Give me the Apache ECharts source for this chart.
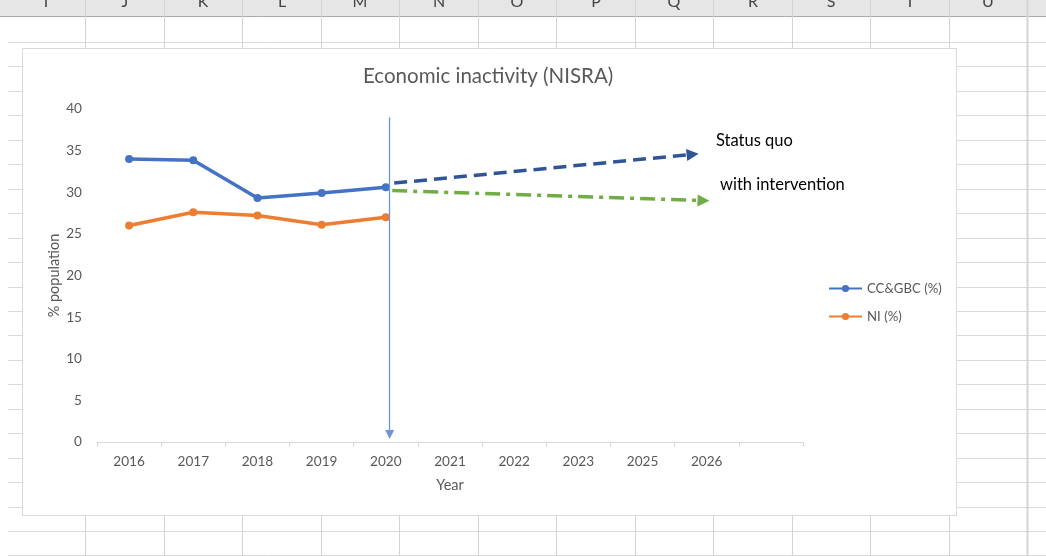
<!DOCTYPE html>
<html>
<head>
<meta charset="utf-8">
<title>Economic inactivity (NISRA)</title>
<script src="https://cdn.jsdelivr.net/npm/echarts@6/dist/echarts.min.js"></script>
<style>
  html, body { margin: 0; padding: 0; background: #fff; }
  #chart { width: 1046px; height: 556px; }
</style>
</head>
<body>
<div id="chart"></div>
<script>
// categories on the x axis (last slot is empty, as in the sheet)
var years = ['2016', '2017', '2018', '2019', '2020', '2021', '2022', '2023', '2025', '2026', ''];
// measured series
var ccgbc = [34.0, 33.85, 29.3, 29.9, 30.6];
var ni = [26.0, 27.6, 27.2, 26.1, 27.0];
// hand drawn arrows, in [category position, %] units
var statusQuo = [[4.63, 31.1], [9.28, 34.55]];
var withIntervention = [[4.6, 30.2], [9.45, 29.0]];
var divider = [[4.56, 39.0], [4.56, 0.9]];
// spreadsheet column headers
var colLetters = ['I', 'J', 'K', 'L', 'M', 'N', 'O', 'P', 'Q', 'R', 'S', 'T', 'U'];

var FONT = 'Lato, "Open Sans", sans-serif';
var GREY = '#595959';

// spreadsheet background
var sheet = [];
sheet.push({ type: 'rect', z: -20, shape: { x: 0, y: 0, width: 1046, height: 16 }, style: { fill: '#e6e6e6' } });
sheet.push({ type: 'line', z: -19, shape: { x1: 0, y1: 16.5, x2: 1046, y2: 16.5 }, style: { stroke: '#ababab', lineWidth: 1 } });
for (var r = 0; r < 22; r++) {
  var ry = Math.round(42 + r * 24.45) + 0.5;
  sheet.push({ type: 'line', z: -19, shape: { x1: 8, y1: ry, x2: 1046, y2: ry }, style: { stroke: '#dadada', lineWidth: 1 } });
}
for (var c = 0; c < colLetters.length; c++) {
  var cx = Math.round(85 + c * 78.5) + 0.5;
  sheet.push({ type: 'line', z: -19, shape: { x1: cx, y1: 0, x2: cx, y2: 556 }, style: { stroke: '#d4d4d4', lineWidth: c === 12 ? 2 : 1 } });
  sheet.push({
    type: 'text', z: -18, x: cx - 39.5, y: 10,
    style: { text: colLetters[c], fill: '#444', font: '16px ' + FONT, textAlign: 'center', textVerticalAlign: 'bottom' }
  });
}
// chart area
sheet.push({ type: 'rect', z: -10, shape: { x: 22.5, y: 48.5, width: 934, height: 467 }, style: { fill: '#fff', stroke: '#d9d9d9', lineWidth: 1 } });
// annotation text boxes
sheet.push({ type: 'text', z: 10, x: 716, y: 141, style: { text: 'Status quo', fill: '#000', font: '16.5px ' + FONT, textVerticalAlign: 'middle' } });
sheet.push({ type: 'text', z: 10, x: 720, y: 185, style: { text: 'with intervention', fill: '#000', font: '16.5px ' + FONT, textVerticalAlign: 'middle' } });

function arrow(name, pts, color, width, dash, size) {
  return {
    name: name,
    type: 'lines',
    coordinateSystem: 'cartesian2d',
    xAxisIndex: 1,
    yAxisIndex: 0,
    silent: true,
    z: 4,
    symbol: ['none', 'triangle'],
    symbolSize: size,
    lineStyle: { color: color, width: width, type: dash, opacity: 1 },
    data: [{ coords: pts }]
  };
}

var chart = echarts.init(document.getElementById('chart'));
chart.setOption({
  animation: false,
  textStyle: { fontFamily: FONT },
  graphic: sheet,
  title: {
    text: 'Economic inactivity (NISRA)',
    left: 358,
    top: 61,
    textStyle: { fontFamily: FONT, fontSize: 20.5, fontWeight: 'normal', color: GREY }
  },
  legend: {
    orient: 'vertical',
    left: 823,
    top: 277,
    itemWidth: 33,
    itemHeight: 9,
    itemGap: 15,
    data: ['CC&GBC (%)', 'NI (%)'],
    textStyle: { fontFamily: FONT, fontSize: 13.2, color: GREY }
  },
  grid: { left: 97, right: 243, top: 109, bottom: 114 },
  xAxis: [{
    type: 'category',
    data: years,
    boundaryGap: true,
    name: 'Year',
    nameLocation: 'middle',
    nameGap: 36,
    nameTextStyle: { fontFamily: FONT, fontSize: 14.5, color: GREY },
    axisLine: { lineStyle: { color: '#d9d9d9', width: 1 } },
    axisTick: { show: true, length: 5, lineStyle: { color: '#d9d9d9' } },
    axisLabel: { fontFamily: FONT, fontSize: 13.6, color: GREY, margin: 13 },
    splitLine: { show: false }
  }, {
    type: 'value',
    min: 0,
    max: 11,
    show: false
  }],
  yAxis: {
    type: 'value',
    min: 0,
    max: 40,
    interval: 5,
    name: '% population',
    nameLocation: 'middle',
    nameGap: 43,
    nameMoveOverlap: false,
    nameTextStyle: { fontFamily: FONT, fontSize: 14.5, color: GREY, verticalAlign: 'middle' },
    axisLine: { show: false },
    axisTick: { show: false },
    axisLabel: { fontFamily: FONT, fontSize: 13.6, color: GREY, margin: 15 },
    splitLine: { show: false }
  },
  series: [{
    name: 'CC&GBC (%)',
    type: 'line',
    data: ccgbc,
    symbol: 'circle',
    symbolSize: 8,
    color: '#4472C4',
    lineStyle: { width: 3.5, color: '#4472C4' },
    itemStyle: { color: '#4472C4' },
    z: 3
  }, {
    name: 'NI (%)',
    type: 'line',
    data: ni,
    symbol: 'circle',
    symbolSize: 8,
    color: '#ED7D31',
    lineStyle: { width: 3.5, color: '#ED7D31' },
    itemStyle: { color: '#ED7D31' },
    z: 3
  },
  arrow('divider', divider, '#6f95d8', 1.3, 'solid', 9),
  arrow('status quo', statusQuo, '#2F5597', 3.5, [13, 7], 12),
  arrow('with intervention', withIntervention, '#70AD47', 3.5, [15, 6, 4, 6], 12)
  ]
});
</script>
</body>
</html>
